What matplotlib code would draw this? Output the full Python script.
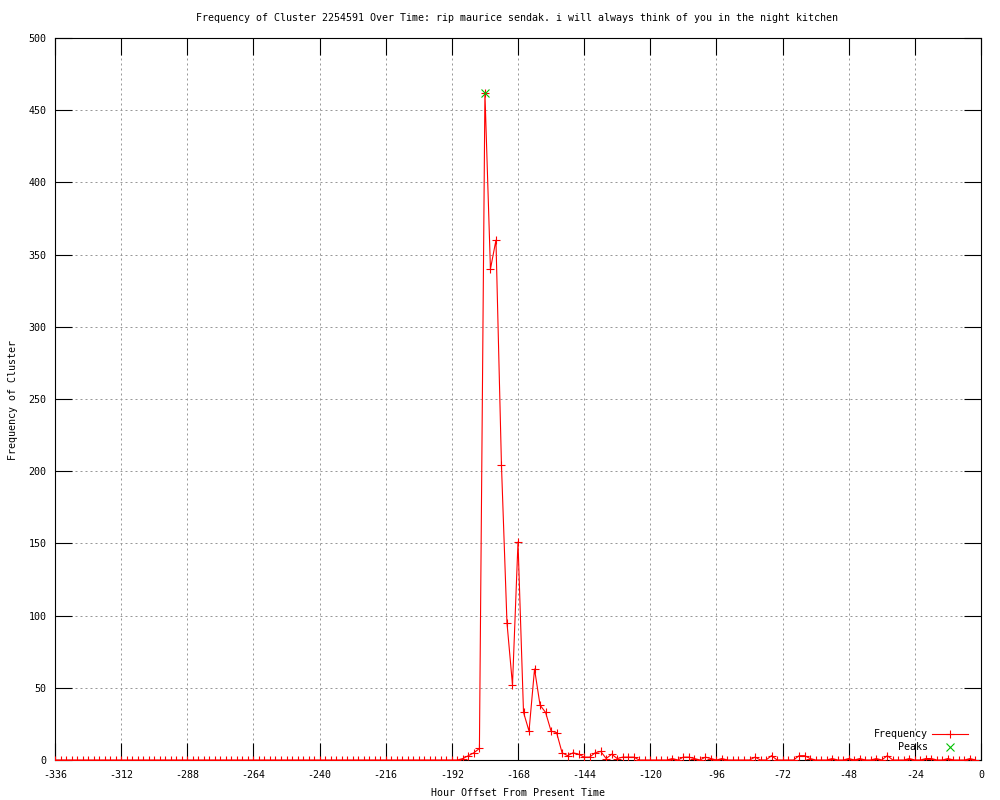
import matplotlib
matplotlib.use("Agg")
import matplotlib.pyplot as plt
from matplotlib.ticker import MultipleLocator

plt.rcParams["font.family"] = ["DejaVu Sans Mono", "DejaVu Sans"]
plt.rcParams["font.size"] = 7.2
plt.rcParams["axes.unicode_minus"] = False

# hours before present, one sample every 2 hours
hours = list(range(-336, 0, 2))

# frequency per sample, 12 samples (24 hours) per row
frequency = [
    0, 0, 0, 0, 0, 0, 0, 0, 0, 0, 0, 0,            # -336 .. -314
    0, 0, 0, 0, 0, 0, 0, 0, 0, 0, 0, 0,            # -312 .. -290
    0, 0, 0, 0, 0, 0, 0, 0, 0, 0, 0, 0,            # -288 .. -266
    0, 0, 0, 0, 0, 0, 0, 0, 0, 0, 0, 0,            # -264 .. -242
    0, 0, 0, 0, 0, 0, 0, 0, 0, 0, 0, 0,            # -240 .. -218
    0, 0, 0, 0, 0, 0, 0, 0, 0, 0, 0, 0,            # -216 .. -194
    0, 0, 1, 3, 5, 8, 462, 340, 360, 204, 95, 52,  # -192 .. -170
    151, 33, 20, 63, 38, 33, 20, 19, 5, 3, 5, 4,   # -168 .. -146
    2, 2, 5, 6, 1, 4, 1, 2, 2, 2, 0, 0,            # -144 .. -122
    0, 0, 0, 0, 1, 0, 2, 2, 1, 0, 2, 1,            # -120 .. -98
    0, 1, 0, 0, 0, 0, 0, 2, 0, 0, 3, 0,            # -96 .. -74
    0, 0, 0, 3, 3, 1, 0, 0, 0, 1, 0, 0,            # -72 .. -50
    1, 0, 1, 0, 0, 1, 0, 3, 0, 0, 0, 1,            # -48 .. -26
    0, 0, 1, 1, 0, 0, 1, 0, 0, 0, 1, 0,            # -24 .. -2
]

peak_hours = [-180]
peak_values = [462]

title = ("Frequency of Cluster 2254591 Over Time: rip maurice sendak. "
         "i will always think of you in the night kitchen")

fig = plt.figure(figsize=(10, 8), dpi=100)
ax = fig.add_axes([0.055, 0.05, 0.926, 0.9025])

ax.plot(hours, frequency, color="#ff0000", lw=0.8, marker="+",
        markersize=6, markeredgewidth=0.8, label="Frequency", zorder=3)
ax.plot(peak_hours, peak_values, linestyle="none", color="#00c000",
        marker="x", markersize=5.5, markeredgewidth=0.8, label="    Peaks",
        zorder=4)

ax.set_xlim(-336, 0)
ax.set_ylim(0, 500)
ax.xaxis.set_major_locator(MultipleLocator(24))
ax.yaxis.set_major_locator(MultipleLocator(50))

ax.grid(True, color="#999999", linestyle=(0, (2, 3)), linewidth=0.72)
ax.set_axisbelow(True)
for s in ax.spines.values():
    s.set_linewidth(0.8)
    s.set_color("black")

ax.tick_params(direction="in", length=12, width=0.8, top=True, right=True,
               colors="black", labelsize=7.2)
ax.tick_params(axis="x", pad=7)
ax.tick_params(axis="y", pad=6)

fig.text(0.5175, 0.977, title, ha="center", va="center", fontsize=7.2)
fig.text(0.518, 0.009, "Hour Offset From Present Time", ha="center",
         va="center", fontsize=7.2)
fig.text(0.013, 0.5, "Frequency of Cluster", ha="center", va="center",
         rotation=90, fontsize=7.2)

ax.legend(loc="lower right", bbox_to_anchor=(0.986, 0.011), frameon=False,
          markerfirst=False, handlelength=3.6, handletextpad=0.4,
          labelspacing=0.3, borderpad=0, borderaxespad=0, fontsize=7.2)

fig.savefig("out.png", dpi=100)
